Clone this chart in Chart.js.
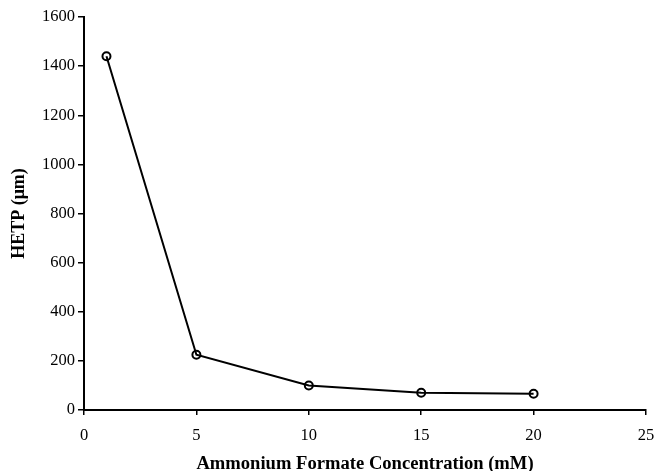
<!DOCTYPE html>
<html>
<head>
<meta charset="utf-8">
<script src="https://cdn.jsdelivr.net/npm/chart.js@4"></script>
<style>
html,body{margin:0;padding:0;background:#fff;}
#wrap{width:654px;height:471px;position:relative;}
</style>
</head>
<body>
<div id="wrap"><canvas id="c" width="654" height="471"></canvas></div>
<script>
const concentrations = [1, 5, 10, 15, 20];
const hetpValues = [1440, 225, 100, 70, 66];
const xTitle = 'Ammonium Formate Concentration (mM)';
const yTitle = 'HETP (\u03bcm)';

const serif = "'Liberation Serif', 'Times New Roman', serif";

new Chart(document.getElementById('c'), {
  type: 'line',
  data: {
    datasets: [{
      data: concentrations.map((x, i) => ({x: x, y: hetpValues[i]})),
      borderColor: '#000',
      borderWidth: 2,
      pointRadius: 4,
      pointBorderWidth: 2,
      pointBorderColor: '#000',
      pointBackgroundColor: 'rgba(0,0,0,0)',
      tension: 0,
      fill: false
    }]
  },
  options: {
    responsive: false,
    animation: false,
    devicePixelRatio: 1,
    layout: {padding: {top: 17, right: 8, left: 0, bottom: 0}},
    plugins: {legend: {display: false}, tooltip: {enabled: false}},
    scales: {
      x: {
        type: 'linear', min: 0, max: 25,
        ticks: {stepSize: 5, color: '#000', padding: 11, format: {useGrouping: false},
                font: {family: serif, size: 16.5}},
        grid: {drawOnChartArea: false, drawTicks: true, tickLength: 5, color: '#000', lineWidth: 1.5},
        border: {color: '#000', width: 2},
        title: {display: true, text: xTitle, color: '#000', padding: {top: 0, bottom: 0},
                font: {family: serif, size: 18.6, weight: 'bold', lineHeight: 0.74}},
        afterFit: s => { s.height = 61; s.paddingRight = 0; s.paddingLeft = 0; }
      },
      y: {
        type: 'linear', min: 0, max: 1600,
        ticks: {stepSize: 200, color: '#000', padding: 3, format: {useGrouping: false},
                font: {family: serif, size: 16.5}},
        grid: {drawOnChartArea: false, drawTicks: true, tickLength: 6, color: '#000', lineWidth: 1.5},
        border: {color: '#000', width: 2},
        title: {display: true, text: yTitle, color: '#000', padding: {top: 10, bottom: 0},
                font: {family: serif, size: 18, weight: 'bold', lineHeight: 1}},
        afterFit: s => { s.width = 84; s.paddingTop = 0; s.paddingBottom = 0; }
      }
    }
  }
});
</script>
</body>
</html>
